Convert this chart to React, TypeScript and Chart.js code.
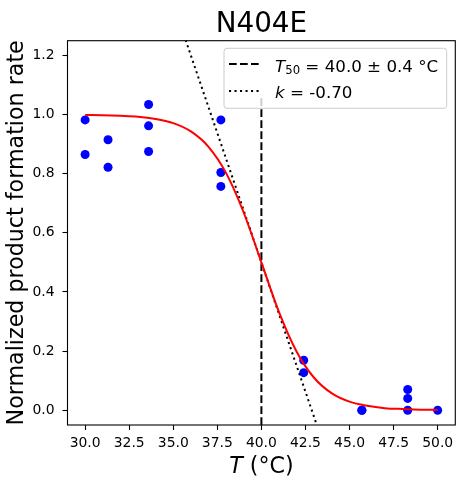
import React, { useEffect, useRef } from 'react';
import { Chart, registerables, Plugin } from 'chart.js';

Chart.register(...registerables);

const FONT = '"DejaVu Sans", sans-serif';

// measured points (temperature, normalized rate)
const sampleTemp = [30, 30, 31.3, 31.3, 33.6, 33.6, 33.6, 37.7, 37.7, 37.7, 42.4, 42.4, 45.7, 45.7, 48.3, 48.3, 48.3, 50];
const sampleRate = [0.982, 0.865, 0.915, 0.822, 1.034, 0.962, 0.875, 0.982, 0.804, 0.757, 0.169, 0.127, 0.0, 0.0, 0.07, 0.04, 0.0, 0.0];

// fitted curve
const fitTemp = [30, 31, 32, 33, 34, 35, 36, 37, 38, 39, 40, 41, 42, 43, 44, 45, 46, 47, 48, 49, 50];
const fitRate = [0.999, 0.998, 0.996, 0.993, 0.985, 0.971, 0.943, 0.891, 0.802, 0.668, 0.5, 0.332, 0.198, 0.109, 0.057, 0.029, 0.015, 0.007, 0.004, 0.002, 0.001];

// T50 marker and tangent line
const t50 = 40.0;
const t50Err = 0.4;
const slopeK = -0.7;
const t50Rate = [-0.05, 1.067];
const tangentTemp = [35.5, 43.5];
const tangentRate = [1.2875, -0.1125];

const xTicks = [30, 32.5, 35, 37.5, 40, 42.5, 45, 47.5, 50];
const yTicks = [0, 0.2, 0.4, 0.6, 0.8, 1.0, 1.2];

const pairs = (xs: number[], ys: number[]) => xs.map((x, i) => ({ x, y: ys[i] }));

const decorations: Plugin = {
    id: 'decorations',
    afterDatasetsDraw(chart) {
        const { ctx, chartArea: a } = chart;
        ctx.save();

        // frame
        ctx.strokeStyle = '#000';
        ctx.lineWidth = 1.1;
        ctx.strokeRect(a.left, a.top, a.right - a.left, a.bottom - a.top);

        // legend box
        const bw = 222.7;
        const bh = 60;
        const bx = a.right - 8.6 - bw;
        const by = a.top + 7.6;
        ctx.beginPath();
        ctx.roundRect(bx, by, bw, bh, 3);
        ctx.fillStyle = 'rgba(255,255,255,0.8)';
        ctx.fill();
        ctx.strokeStyle = '#cccccc';
        ctx.lineWidth = 1;
        ctx.stroke();

        const sampleLine = (y: number, dash: number[]) => {
            ctx.beginPath();
            ctx.setLineDash(dash);
            ctx.strokeStyle = '#000';
            ctx.lineWidth = 2;
            ctx.moveTo(bx + 5, y);
            ctx.lineTo(bx + 38, y);
            ctx.stroke();
            ctx.setLineDash([]);
        };
        sampleLine(by + 15.7, [7.7, 3.3]);
        sampleLine(by + 42.7, [2.1, 3.4]);

        ctx.fillStyle = '#000';
        ctx.textAlign = 'left';
        ctx.textBaseline = 'alphabetic';
        let tx = bx + 51;
        let ty = by + 24;
        ctx.font = `italic 16.7px ${FONT}`;
        ctx.fillText('T', tx, ty);
        tx += ctx.measureText('T').width;
        ctx.font = `11.7px ${FONT}`;
        ctx.fillText('50', tx, ty + 1.5);
        tx += ctx.measureText('50').width;
        ctx.font = `16.7px ${FONT}`;
        ctx.fillText(` = ${t50.toFixed(1)} ± ${t50Err.toFixed(1)} °C`, tx, ty);

        tx = bx + 51;
        ty = by + 50;
        ctx.font = `italic 16.7px ${FONT}`;
        ctx.fillText('k', tx, ty);
        tx += ctx.measureText('k').width;
        ctx.font = `16.7px ${FONT}`;
        ctx.fillText(` = ${slopeK.toFixed(2)}`, tx, ty);

        ctx.restore();
    },
    afterDraw(chart) {
        const { ctx, chartArea: a } = chart;
        const cx = (a.left + a.right) / 2;
        const cy = (a.top + a.bottom) / 2;
        ctx.save();
        ctx.fillStyle = '#000';
        ctx.textBaseline = 'alphabetic';

        // title
        ctx.textAlign = 'center';
        ctx.font = `27.8px ${FONT}`;
        ctx.fillText('N404E', cx, 32);

        // x label
        ctx.textAlign = 'left';
        ctx.font = `italic 22.2px ${FONT}`;
        const tW = ctx.measureText('T').width;
        ctx.font = `22.2px ${FONT}`;
        const restW = ctx.measureText(' (°C)').width;
        const sx = cx - (tW + restW) / 2;
        ctx.font = `italic 22.2px ${FONT}`;
        ctx.fillText('T', sx, 472.5);
        ctx.font = `22.2px ${FONT}`;
        ctx.fillText(' (°C)', sx + tW, 472.5);

        // y label
        ctx.translate(23.3, cy);
        ctx.rotate(-Math.PI / 2);
        ctx.textAlign = 'center';
        ctx.fillText('Normalized product formation rate', 0, 0);
        ctx.restore();
    },
};

const App: React.FC = () => {
    const chartRef = useRef<HTMLCanvasElement | null>(null);

    useEffect(() => {
        if (!chartRef.current) return;
        const tickFont = { family: FONT, size: 13.9 };
        const chart = new Chart(chartRef.current, {
            type: 'scatter',
            data: {
                datasets: [
                    {
                        label: 'fit',
                        data: pairs(fitTemp, fitRate),
                        showLine: true,
                        borderColor: '#ff0000',
                        borderWidth: 2,
                        pointRadius: 0,
                        cubicInterpolationMode: 'monotone',
                        clip: 0,
                    },
                    {
                        label: 'T50',
                        data: pairs([t50, t50], t50Rate),
                        showLine: true,
                        borderColor: '#000',
                        borderWidth: 2,
                        borderDash: [7.7, 3.3],
                        pointRadius: 0,
                        clip: 0,
                    },
                    {
                        label: 'k',
                        data: pairs(tangentTemp, tangentRate),
                        showLine: true,
                        borderColor: '#000',
                        borderWidth: 2,
                        borderDash: [2.1, 3.4],
                        pointRadius: 0,
                        clip: 0,
                    },
                    {
                        label: 'data',
                        data: pairs(sampleTemp, sampleRate),
                        backgroundColor: '#0000ff',
                        borderWidth: 0,
                        pointRadius: 4.5,
                        clip: 0,
                    },
                ],
            },
            options: {
                animation: false,
                responsive: false,
                events: [],
                layout: { padding: { top: 40.7, right: 8.7, left: 0, bottom: 0 } },
                plugins: {
                    legend: { display: false },
                    title: { display: false },
                    tooltip: { enabled: false },
                },
                scales: {
                    x: {
                        type: 'linear',
                        min: 29,
                        max: 51,
                        afterBuildTicks: (s: any) => {
                            s.ticks = xTicks.map((v) => ({ value: v }));
                        },
                        afterFit: (s: any) => {
                            s.height = 62;
                        },
                        ticks: {
                            font: tickFont,
                            color: '#000',
                            padding: 5,
                            maxRotation: 0,
                            autoSkip: false,
                            callback: (v: any) => Number(v).toFixed(1),
                        },
                        grid: { drawOnChartArea: false, drawTicks: true, tickLength: 5, tickColor: '#000', tickWidth: 1.1 },
                        border: { display: false },
                    },
                    y: {
                        type: 'linear',
                        min: -0.05,
                        max: 1.25,
                        afterBuildTicks: (s: any) => {
                            s.ticks = yTicks.map((v) => ({ value: v }));
                        },
                        afterFit: (s: any) => {
                            s.width = 67.5;
                        },
                        ticks: {
                            font: tickFont,
                            color: '#000',
                            padding: 8,
                            autoSkip: false,
                            callback: (v: any) => Number(v).toFixed(1),
                        },
                        grid: { drawOnChartArea: false, drawTicks: true, tickLength: 5, tickColor: '#000', tickWidth: 1.1 },
                        border: { display: false },
                    },
                },
            },
            plugins: [decorations],
        });
        return () => {
            chart.destroy();
        };
    }, []);

    return (
        <div style={{ position: 'fixed', left: 0, top: 0, width: 464, height: 487, background: '#fff' }}>
            <canvas ref={chartRef} width={464} height={487} style={{ width: 464, height: 487 }} />
        </div>
    );
};

export default App;
